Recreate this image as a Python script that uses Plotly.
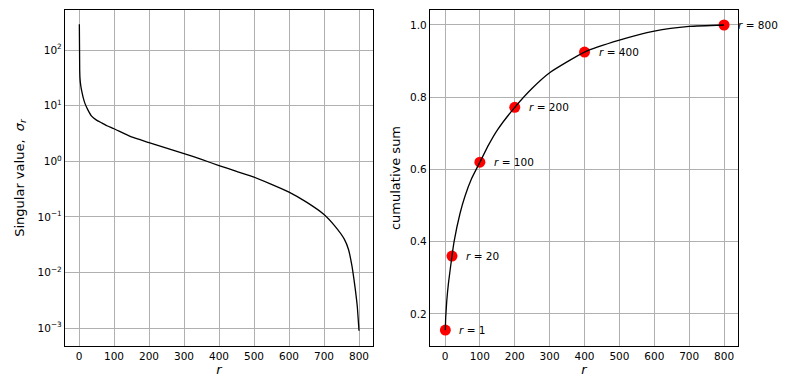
import plotly.graph_objects as go

# ---- data ----
r_sv = [1, 2, 3, 5, 8, 12, 17, 25, 36, 50, 65, 80, 100, 150, 200, 250, 300, 350,
        400, 450, 500, 550, 600, 650, 700, 730, 758, 770, 780, 785, 790, 795, 800]
sigma = [290, 44, 30, 23, 18, 14, 11, 8.5, 6.5, 5.5, 4.9, 4.35, 3.85, 2.74, 2.17,
         1.72, 1.38, 1.08, 0.84, 0.66, 0.52, 0.385, 0.28, 0.185, 0.111, 0.07,
         0.04, 0.026, 0.013, 0.008, 0.0047, 0.0025, 0.0009]

r_cs = [1, 2, 3, 5, 10, 20, 26, 43, 57, 76, 100, 125, 150, 200, 250, 300, 400,
        500, 600, 700, 800]
cumsum = [0.155, 0.19, 0.205, 0.235, 0.286, 0.36, 0.40, 0.478, 0.525, 0.574, 0.62,
          0.668, 0.709, 0.772, 0.825, 0.868, 0.925, 0.958, 0.983, 0.996, 1.0]

r_mark = [1, 20, 100, 200, 400, 800]
cs_mark = [0.155, 0.36, 0.62, 0.772, 0.925, 1.0]
mark_labels = ["<i>r</i> = 1", "<i>r</i> = 20", "<i>r</i> = 100", "<i>r</i> = 200",
               "<i>r</i> = 400", "<i>r</i> = 800"]

log_ticks = [1e2, 1e1, 1e0, 1e-1, 1e-2, 1e-3]
log_tick_text = ["10<sup>2</sup>", "10<sup>1</sup>", "10<sup>0</sup>",
                 "10<sup>\u22121</sup>", "10<sup>\u22122</sup>", "10<sup>\u22123</sup>"]
x_ticks = [0, 100, 200, 300, 400, 500, 600, 700, 800]
cs_ticks = [0.2, 0.4, 0.6, 0.8, 1.0]
cs_tick_text = ["0.2", "0.4", "0.6", "0.8", "1.0"]

FONT = "DejaVu Sans"
GRID = "#b0b0b0"

fig = go.Figure()

fig.add_trace(go.Scatter(x=r_sv, y=sigma, mode="lines",
                         line=dict(color="black", width=1.3, shape="spline", smoothing=0.4),
                         xaxis="x", yaxis="y", showlegend=False))

fig.add_trace(go.Scatter(x=r_mark, y=cs_mark, mode="markers",
                         marker=dict(color="red", size=11, line=dict(width=0)),
                         xaxis="x2", yaxis="y2", showlegend=False))
fig.add_trace(go.Scatter(x=r_cs, y=cumsum, mode="lines",
                         line=dict(color="black", width=1.3, shape="spline", smoothing=0.5),
                         xaxis="x2", yaxis="y2", showlegend=False))

annotations = []
for rx, cy, txt in zip(r_mark, cs_mark, mark_labels):
    annotations.append(dict(x=rx, y=cy, xref="x2", yref="y2", text=txt,
                            showarrow=False, xanchor="left", yanchor="middle",
                            xshift=12, font=dict(family=FONT, size=10.5, color="black")))

axis_common = dict(showline=True, linecolor="black", linewidth=1.2, mirror=True,
                   showgrid=True, gridcolor=GRID, gridwidth=1, ticks="",
                   zeroline=False, automargin=False,
                   tickfont=dict(family=FONT, size=10.5, color="black"))

fig.update_layout(
    width=788, height=390,
    margin=dict(l=0, r=0, t=0, b=0),
    paper_bgcolor="white", plot_bgcolor="white",
    font=dict(family=FONT, color="black"),
    xaxis=dict(domain=[65/788, 373/788], range=[-40, 840], tickvals=x_ticks,
               title=dict(text="<i>r</i>", font=dict(family=FONT, size=13), standoff=4),
               anchor="y", **axis_common),
    yaxis=dict(domain=[1-346/390, 1-10/390], type="log",
               range=[-3.32, 2.72], tickvals=log_ticks, ticktext=log_tick_text,
               title=dict(text="Singular value,  <i>\u03c3</i><sub><i>r</i></sub>",
                          font=dict(family=FONT, size=13), standoff=10),
               anchor="x", **axis_common),
    xaxis2=dict(domain=[430/788, 738/788], range=[-43, 840], tickvals=x_ticks,
                title=dict(text="<i>r</i>", font=dict(family=FONT, size=13), standoff=4),
                anchor="y2", **axis_common),
    yaxis2=dict(domain=[1-346/390, 1-10/390], range=[0.111, 1.0415],
                tickvals=cs_ticks, ticktext=cs_tick_text,
                title=dict(text="cumulative sum", font=dict(family=FONT, size=13), standoff=6),
                anchor="x2", **axis_common),
    annotations=annotations,
)

fig.write_html("out.html",
               config={"displayModeBar": False},
               post_script="document.body.style.margin='0';document.body.style.overflow='hidden';")
